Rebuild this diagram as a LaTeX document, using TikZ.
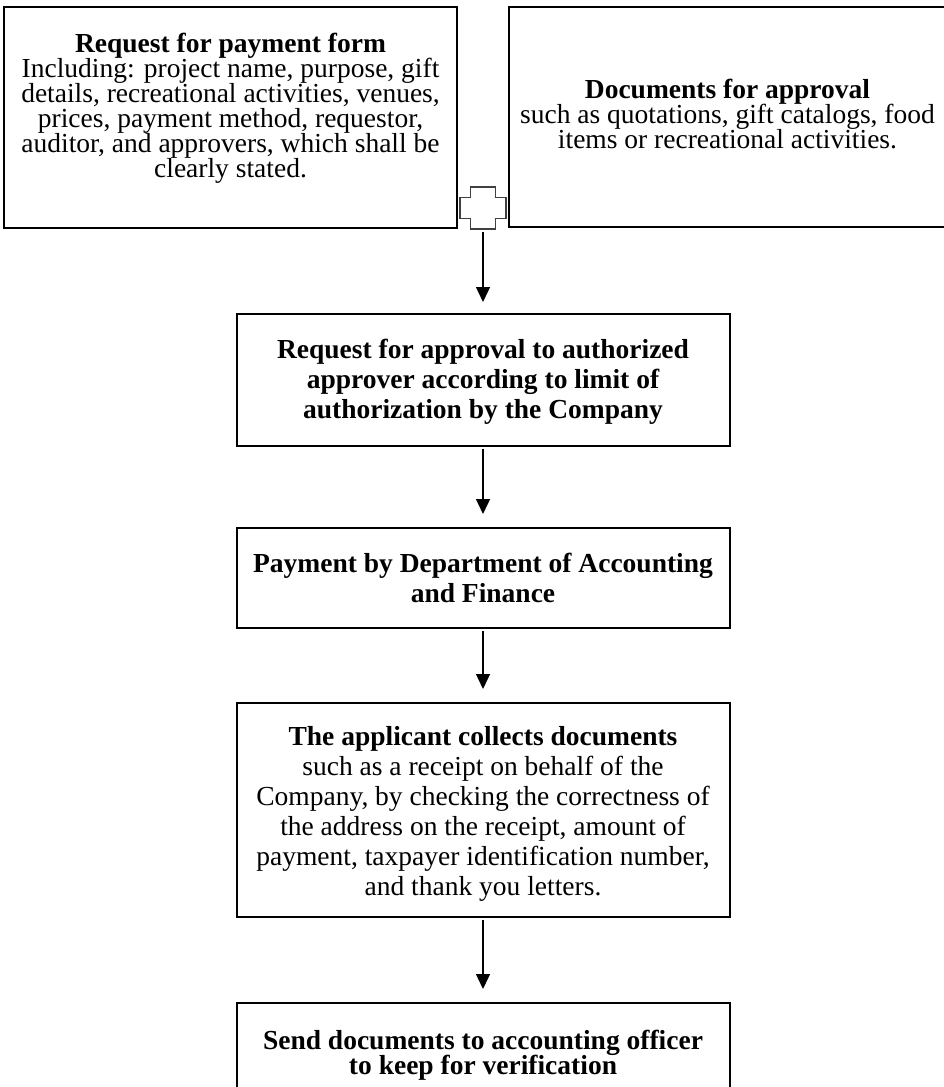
\documentclass[tikz,border=0pt]{standalone}
\usepackage{fontspec}
\setmainfont{Liberation Serif}
\usetikzlibrary{arrows.meta}
\newcommand{\tightfont}{\fontsize{27.5}{25}\selectfont\lineskiplimit=-10pt\relax}
\newcommand{\loosefont}{\fontsize{27.5}{30}\selectfont}

\begin{document}
\begin{tikzpicture}[x=1pt, y=-1pt,
  box/.style={draw, line width=2pt, inner sep=0pt},
  txt/.style={align=center, inner sep=0pt},
  tight/.style={font=\tightfont},
  tightbf/.style={font=\tightfont\bfseries},
  loose/.style={font=\loosefont},
  loosebf/.style={font=\loosefont\bfseries},
  flow/.style={draw, line width=1.3pt, -{Triangle[width=14pt,length=15pt]}, shorten <=2pt, shorten >=13pt},
  plusline/.style={draw=black!75, line width=1.2pt}]
  \useasboundingbox (0,0) rectangle (944,1087);
  % top row: form and documents
  \node[box, minimum width=453pt, minimum height=221pt] (form) at (230.5,117.5) {};
  \node[txt, tight] (formtext) at ([yshift=9pt]form.center)
    {\textbf{Request for payment form}\\
     Including: project name, purpose, gift\\
     details, recreational activities, venues,\\
     prices, payment method, requestor,\\
     auditor, and approvers, which shall be\\
     clearly stated.};
  \node[box, minimum width=437pt, minimum height=220pt] (docs) at (727.5,117) {};
  \node[txt, tight] (docstext) at ([yshift=3pt]docs.center)
    {\textbf{Documents for approval}\\
     such as quotations, gift catalogs, food\\
     items or recreational activities.};
  % plus sign between them
  \coordinate (plus) at (483,208);
  \draw[plusline, shift={(plus)}] (-12.5,-21) -- (12.5,-21) -- (12.5,-10.5) -- (23,-10.5)
    -- (23,10.5) -- (12.5,10.5) -- (12.5,21) -- (-12.5,21) -- (-12.5,10.5) -- (-23,10.5)
    -- (-23,-10.5) -- (-12.5,-10.5) -- cycle;
  \coordinate (plusbot) at (483,229);
  % steps
  \node[box, minimum width=493pt, minimum height=132pt] (approve) at (483,380) {};
  \node[txt, loosebf] (approvetext) at ([yshift=-2pt]approve.center)
    {Request for approval to authorized\\
     approver according to limit of\\
     authorization by the Company};
  \node[box, minimum width=493pt, minimum height=100pt] (pay) at (483,578) {};
  \node[txt, loosebf] (paytext) at (pay.center)
    {Payment by Department of Accounting\\
     and Finance};
  \node[box, minimum width=493pt, minimum height=214pt] (collect) at (483,810) {};
  \node[txt, loose] (collecttext) at ([yshift=-4pt]collect.center)
    {\textbf{The applicant collects documents}\\
     such as a receipt on behalf of the\\
     Company, by checking the correctness of\\
     the address on the receipt, amount of\\
     payment, taxpayer identification number,\\
     and thank you letters.};
  \node[box, minimum width=493pt, minimum height=101pt] (send) at (483,1053.5) {};
  \node[txt, tightbf] (sendtext) at ([yshift=-2pt]send.center)
    {Send documents to accounting officer\\
     to keep for verification};
  % arrows
  \draw[flow, shorten <=3pt, shorten >=11pt] (plusbot) -- (approve.north);
  \draw[flow] (approve) -- (pay);
  \draw[flow] (pay) -- (collect);
  \draw[flow] (collect) -- (send);
\end{tikzpicture}
\end{document}
